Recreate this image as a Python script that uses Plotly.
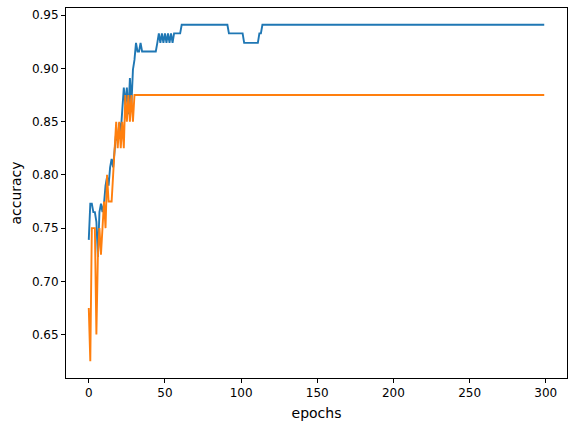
import plotly.graph_objects as go

epochs = list(range(300))

train_early = [0.739, 0.773, 0.773, 0.765, 0.765, 0.756, 0.723, 0.765, 0.773, 0.765,
               0.773, 0.790, 0.798, 0.790, 0.807, 0.815, 0.807, 0.824, 0.840, 0.832,
               0.849, 0.840, 0.866, 0.882, 0.866, 0.882, 0.857, 0.891, 0.866, 0.899,
               0.908, 0.924, 0.916, 0.916, 0.924, 0.916, 0.916]
train_rest = ([0.916] * 8 +
              [0.924, 0.933] * 6 +
              [0.933] * 4 +
              [0.941] * 31 +
              [0.933] * 10 +
              [0.924] * 10 +
              [0.933] * 2)
train_acc = train_early + train_rest
train_acc = train_acc + [0.941] * (300 - len(train_acc))

val_early = [0.675, 0.625, 0.75, 0.75, 0.75, 0.65, 0.725, 0.75, 0.725, 0.75,
             0.775, 0.75, 0.80, 0.775, 0.775, 0.775, 0.80, 0.825, 0.85, 0.825,
             0.85, 0.825, 0.85, 0.825, 0.875, 0.85, 0.875, 0.85, 0.875, 0.85]
val_acc = val_early + [0.875] * (300 - len(val_early))

xticks = [0, 50, 100, 150, 200, 250, 300]
yticks = [0.65, 0.70, 0.75, 0.80, 0.85, 0.90, 0.95]

fig = go.Figure()
fig.add_trace(go.Scatter(x=epochs, y=train_acc, mode="lines",
                         line=dict(color="#1f77b4", width=1.9), showlegend=False))
fig.add_trace(go.Scatter(x=epochs, y=val_acc, mode="lines",
                         line=dict(color="#ff7f0e", width=1.9), showlegend=False))

lo, hi = min(min(train_acc), min(val_acc)), max(max(train_acc), max(val_acc))
pad = (hi - lo) * 0.05
fig.update_layout(
    width=575, height=426,
    margin=dict(l=66, r=8, t=8, b=48),
    paper_bgcolor="white", plot_bgcolor="white",
    font=dict(family="DejaVu Sans", size=12, color="black"),
    xaxis=dict(range=[-14.95, 313.95], tickvals=xticks, ticks="outside", ticklen=4,
               tickcolor="black", showline=True, linecolor="black", linewidth=1,
               mirror=True, showgrid=False, zeroline=False, automargin=False,
               title=dict(text="epochs", standoff=8)),
    yaxis=dict(range=[lo - pad, hi + pad], tickvals=yticks, tickformat=".2f",
               ticks="outside", ticklen=4, tickcolor="black", showline=True,
               linecolor="black", linewidth=1, mirror=True, showgrid=False,
               zeroline=False, automargin=False,
               title=dict(text="accuracy", standoff=6)),
)
fig.write_html("out.html", config={"displayModeBar": False},
               post_script="document.body.style.margin='0px';document.body.style.overflow='hidden';")
